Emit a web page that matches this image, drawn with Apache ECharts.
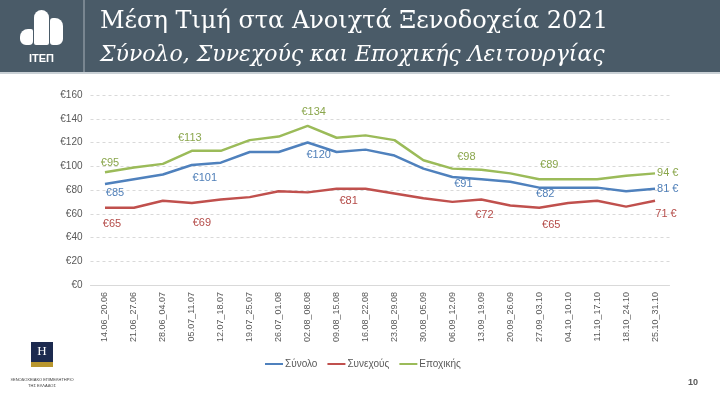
<!DOCTYPE html>
<html><head><meta charset="utf-8">
<script src="https://cdn.jsdelivr.net/npm/echarts@6/dist/echarts.min.js"></script>
<style>html,body{margin:0;padding:0;background:#fff}#c{width:720px;height:400px}</style>
</head><body><div id="c"></div>
<script>
// ---- data ----
const categories = ['14.06_20.06','21.06_27.06','28.06_04.07','05.07_11.07','12.07_18.07','19.07_25.07','26.07_01.08','02.08_08.08','09.08_15.08','16.08_22.08','23.08_29.08','30.08_05.09','06.09_12.09','13.09_19.09','20.09_26.09','27.09_03.10','04.10_10.10','11.10_17.10','18.10_24.10','25.10_31.10'];
const totalValues      = [85, 89, 93, 101, 103, 112, 112, 120, 112, 114, 109, 98, 91, 89, 87, 82, 82, 82, 79, 81];
const continuousValues = [65, 65, 71, 69, 72, 74, 79, 78, 81, 81, 77, 73, 70, 72, 67, 65, 69, 71, 66, 71];
const seasonalValues   = [95, 99, 102, 113, 113, 122, 125, 134, 124, 126, 122, 105, 98, 97, 94, 89, 89, 89, 92, 94];
const seriesNames = ['Σύνολο', 'Συνεχούς', 'Εποχικής'];
const yMin = 0, yMax = 160, yStep = 20;
const titleText = 'Μέση Τιμή στα Ανοιχτά Ξενοδοχεία 2021';
const subtitleText = 'Σύνολο, Συνεχούς και Εποχικής Λειτουργίας';
const pageNumber = '10';

// ---- label placement (style only) ----
const colors = ['#4f81bd', '#c0504d', '#9bbb59'];
const labelColors = ['#4f7fb8', '#b44b48', '#8aa64c'];
const labelSpecs = [
  [{i:0,p:'bottom',d:3,dx:10},{i:3,p:'bottom',d:7,dx:13},{i:7,p:'bottom',d:7,dx:11},{i:12,p:'bottom',d:2,dx:11},{i:15,p:'bottom',d:1,dx:6},{i:19,p:'right',d:2,dx:0}],
  [{i:0,p:'bottom',d:11,dx:7},{i:3,p:'bottom',d:14,dx:10},{i:8,p:'bottom',d:7,dx:12},{i:13,p:'bottom',d:10,dx:3},{i:15,p:'bottom',d:12,dx:12},{i:19,p:'bottom',d:8,dx:11}],
  [{i:0,p:'top',d:4,dx:5},{i:3,p:'top',d:7,dx:-2},{i:7,p:'top',d:8,dx:6},{i:12,p:'top',d:6,dx:14},{i:15,p:'top',d:9,dx:10},{i:19,p:'right',d:2,dx:0}]
];
const allValues = [totalValues, continuousValues, seasonalValues];
const lastIdx = categories.length - 1;

function buildData(k) {
  return allValues[k].map((v, i) => {
    const s = labelSpecs[k].find(o => o.i === i);
    if (!s) return v;
    return {
      value: v,
      label: {
        show: true, position: s.p, distance: s.d, offset: [s.dx, 0],
        color: labelColors[k], fontSize: 11, fontFamily: 'Liberation Sans',
        formatter: i === lastIdx ? (v + ' €') : ('€' + v)
      }
    };
  });
}

const chart = echarts.init(document.getElementById('c'), null, {renderer: 'canvas'});
const option = {
  animation: false,
  backgroundColor: '#fff',
  textStyle: {fontFamily: 'Liberation Sans'},
  grid: {left: 90.5, right: 50.5, top: 95, bottom: 115, containLabel: false},
  xAxis: {
    type: 'category', data: categories, boundaryGap: true,
    axisLine: {lineStyle: {color: '#d9d9d9', width: 1}},
    axisTick: {show: false},
    axisLabel: {rotate: 90, fontSize: 9, color: '#595959', margin: 7, interval: 0}
  },
  yAxis: {
    type: 'value', min: yMin, max: yMax, interval: yStep,
    axisLine: {show: false}, axisTick: {show: false},
    axisLabel: {formatter: v => '€' + v, fontSize: 10, color: '#595959', margin: 8},
    splitLine: {lineStyle: {color: '#d9d9d9', type: [3, 3], width: 1}}
  },
  legend: {
    data: seriesNames, top: 354, left: 260, icon: 'rect', itemWidth: 18, itemHeight: 2,
    itemGap: 10, textStyle: {fontSize: 10, color: '#595959', padding: [0, 0, 0, -3]}
  },
  series: seriesNames.map((n, k) => ({
    name: n, type: 'line', data: buildData(k), symbol: 'circle', symbolSize: 0.01, showSymbol: true,
    smooth: false,
    lineStyle: {color: colors[k], width: 2.5}, itemStyle: {color: colors[k]},
    z: 2 + k
  })),
  graphic: [
    {type: 'rect', shape: {x: 0, y: 0, width: 720, height: 72}, style: {fill: '#4a5b68'}, silent: true},
    {type: 'rect', shape: {x: 0, y: 72, width: 720, height: 2}, style: {fill: '#c9d0d5'}, silent: true},
    {type: 'line', shape: {x1: 84, y1: 0, x2: 84, y2: 72}, style: {stroke: '#a8b2b9', lineWidth: 1}, silent: true},
    {type: 'rect', shape: {x: 20, y: 29, width: 13, height: 16, r: [8, 2, 4, 6]}, style: {fill: '#ffffff'}, silent: true},
    {type: 'rect', shape: {x: 34, y: 10, width: 15, height: 35, r: [8, 8, 2, 2]}, style: {fill: '#ffffff'}, silent: true},
    {type: 'rect', shape: {x: 50, y: 18, width: 13, height: 27, r: [3, 8, 6, 3]}, style: {fill: '#ffffff'}, silent: true},
    {type: 'text', x: 41.5, y: 59, style: {text: 'ΙΤΕΠ', fill: '#ffffff', font: 'bold 11px "Liberation Sans"', textAlign: 'center', textVerticalAlign: 'middle'}, silent: true},
    {type: 'text', x: 100, y: 22, style: {text: titleText, fill: '#ffffff', font: '24px "DejaVu Serif"', textAlign: 'left', textVerticalAlign: 'middle'}, silent: true},
    {type: 'text', x: 100, y: 55, style: {text: subtitleText, fill: '#ffffff', font: 'italic 22px "DejaVu Serif"', textAlign: 'left', textVerticalAlign: 'middle'}, silent: true},
    {type: 'rect', shape: {x: 31, y: 342, width: 22, height: 20}, style: {fill: '#1c2a4f'}, silent: true},
    {type: 'text', x: 42, y: 352, style: {text: 'H', fill: '#ffffff', font: '13px "Liberation Serif"', textAlign: 'center', textVerticalAlign: 'middle'}, silent: true},
    {type: 'rect', shape: {x: 31, y: 362, width: 22, height: 5}, style: {fill: '#b8962e'}, silent: true},
    {type: 'text', x: 42, y: 380, style: {text: 'ΞΕΝΟΔΟΧΕΙΑΚΟ ΕΠΙΜΕΛΗΤΗΡΙΟ', fill: '#3a3a3a', font: '4px "Liberation Sans"', textAlign: 'center', textVerticalAlign: 'middle'}, silent: true},
    {type: 'text', x: 42, y: 386, style: {text: 'ΤΗΣ ΕΛΛΑΔΟΣ', fill: '#3a3a3a', font: '4px "Liberation Sans"', textAlign: 'center', textVerticalAlign: 'middle'}, silent: true},
    {type: 'text', x: 693, y: 383, style: {text: pageNumber, fill: '#595959', font: 'bold 9px "Liberation Sans"', textAlign: 'center', textVerticalAlign: 'middle'}, silent: true}
  ]
};
chart.setOption(option);
</script>
</body></html>
